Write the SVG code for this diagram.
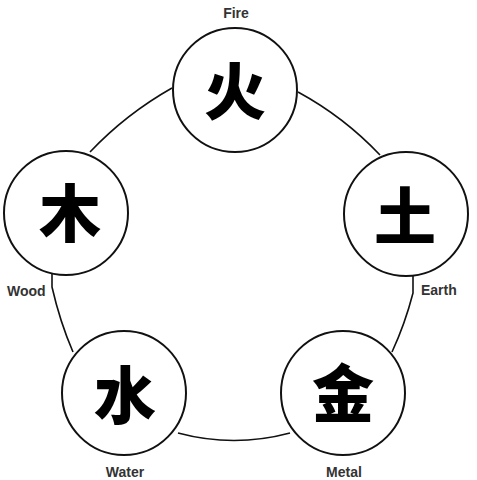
<svg xmlns="http://www.w3.org/2000/svg" width="477" height="480" viewBox="0 0 477 480">
<style>
.c{fill:#fff;stroke:#111;stroke-width:2}
.l{fill:none;stroke:#111;stroke-width:1.6}
.lab{font-family:"Liberation Sans Narrow","Liberation Sans",sans-serif;font-weight:bold;font-size:14px;fill:#333;}
.ch{font-family:"Noto Sans CJK SC","Noto Sans CJK JP",sans-serif;font-weight:900;font-size:62px;fill:#000;text-anchor:middle;dominant-baseline:central}
</style>
<rect width="477" height="480" fill="#fff"/>
<g id="connectors">
<path d="M172,88 Q126,114 90,152" class="l"/>
<path d="M298,92 Q344,117 380,155" class="l"/>
<path d="M413,270 L413,293 Q405,324 392,352" class="l"/>
<path d="M290,433 Q234,448 178,433" class="l"/>
<path d="M73,352 Q60,322 52,287 L52,270" class="l"/>
</g>
<g id="fire">
<circle cx="235" cy="90" r="62" class="c"/>
<text x="235" y="88" class="ch">火</text>
<text x="236" y="18" class="lab" text-anchor="middle">Fire</text>
</g>
<g id="earth">
<circle cx="406" cy="214" r="62" class="c"/>
<text x="405" y="213" class="ch">土</text>
<text x="421" y="295" class="lab">Earth</text>
</g>
<g id="metal">
<circle cx="343" cy="393" r="62" class="c"/>
<text x="343" y="390" class="ch">金</text>
<text x="344" y="477" class="lab" text-anchor="middle">Metal</text>
</g>
<g id="water">
<circle cx="124" cy="393" r="62" class="c"/>
<text x="125" y="392" class="ch">水</text>
<text x="125" y="477" class="lab" text-anchor="middle">Water</text>
</g>
<g id="wood">
<circle cx="66" cy="213" r="62" class="c"/>
<text x="70" y="210" class="ch">木</text>
<text x="7" y="296" class="lab">Wood</text>
</g>
</svg>
